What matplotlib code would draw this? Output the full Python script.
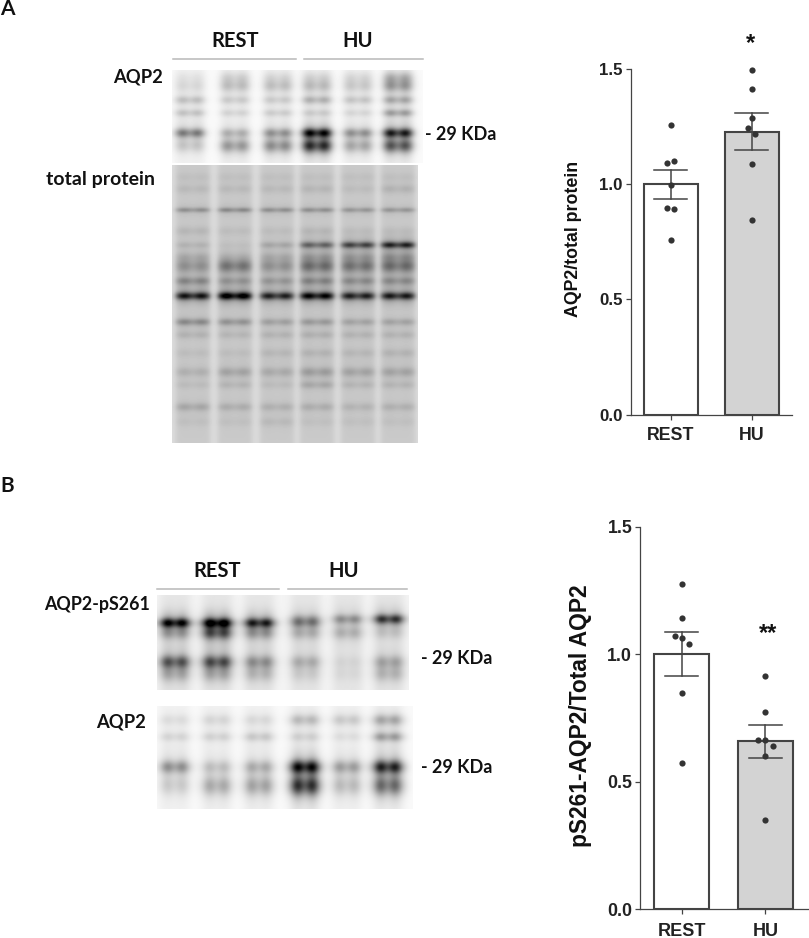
import numpy as np
import matplotlib
matplotlib.use("Agg")
import matplotlib.pyplot as plt

W, H = 809, 938
LABEL_FONT = "Lato"
AXIS_FONT = "Liberation Sans"

# ---- chart data ----
groups = ["REST", "HU"]
a_means = [1.0, 1.225]
a_err_low = [0.936, 1.146]
a_err_high = [1.062, 1.308]
a_rest_points = [1.256, 1.101, 1.091, 0.997, 0.896, 0.893, 0.759]
a_rest_jitter = [0, 0.041, -0.041, 0, -0.041, 0.041, 0]
a_hu_points = [1.493, 1.413, 1.285, 1.243, 1.217, 1.087, 0.844]
a_hu_jitter = [0, 0, 0, -0.041, 0.041, 0, 0]

b_means = [1.002, 0.658]
b_err_low = [0.915, 0.591]
b_err_high = [1.088, 0.722]
b_rest_points = [1.276, 1.140, 1.072, 1.062, 1.040, 0.846, 0.574]
b_rest_jitter = [0, 0, -0.085, 0, 0.085, 0, 0]
b_hu_points = [0.913, 0.774, 0.662, 0.662, 0.639, 0.600, 0.348]
b_hu_jitter = [0, 0, -0.085, 0, 0.085, 0, 0]
y_ticks = [0.0, 0.5, 1.0, 1.5]

# ---- blot band densities: (row, thickness, six lane densities) ----
aqp2_a_bands = [
    (78, 4.0, [.04, .09, .07, .08, .07, .18]),
    (86, 4.0, [.07, .14, .14, .15, .11, .24]),
    (100, 2.8, [.15, .11, .11, .19, .13, .21]),
    (113, 2.6, [.14, .09, .11, .11, .08, .25]),
    (133, 3.2, [.36, .18, .27, .68, .28, .62]),
    (146, 4.5, [.12, .27, .30, .58, .22, .45]),
]
total_bands = [
    (177, 3.0, [.03, .03, .03, .03, .03, .03]),
    (189, 3.0, [.05, .05, .05, .06, .04, .07]),
    (210, 1.7, [.18, .20, .18, .18, .16, .16]),
    (231, 3.0, [.06, .04, .04, .06, .04, .04]),
    (245, 2.2, [.06, .02, .10, .30, .40, .50]),
    (257, 3.0, [.07, .04, .07, .10, .10, .12]),
    (266, 4.5, [.17, .26, .17, .28, .26, .28]),
    (281, 2.8, [.19, .14, .14, .19, .17, .17]),
    (296, 2.6, [.56, .68, .52, .62, .52, .54]),
    (322, 2.4, [.20, .17, .13, .15, .12, .12]),
    (335, 2.6, [.07, .06, .07, .08, .07, .07]),
    (353, 3.0, [.04, .04, .06, .07, .06, .07]),
    (372, 3.2, [.08, .12, .10, .14, .12, .12]),
    (385, 2.6, [.04, .06, .04, .10, .06, .06]),
    (407, 2.8, [.11, .09, .08, .09, .07, .08]),
    (422, 3.0, [.03, .03, .05, .03, .03, .03]),
]
ps261_bands = [
    (623, 3.2, [.70, .74, .60, .25, .03, .05]),
    (619, 3.2, [.03, .03, .03, .16, .25, .54]),
    (633, 4.5, [.20, .44, .22, .16, .16, .09]),
    (662, 4.5, [.45, .48, .27, .18, .05, .20]),
    (674, 5.0, [.16, .16, .13, .07, .04, .14]),
]
aqp2_b_bands = [
    (720, 3.8, [.07, .09, .08, .18, .13, .24]),
    (737, 3.2, [.09, .10, .13, .10, .06, .26]),
    (767, 4.5, [.30, .14, .20, .68, .25, .62]),
    (786, 6.5, [.11, .22, .24, .58, .16, .40]),
]
lanes_a = [190, 235, 278, 317, 358, 398]
lanes_total = [193, 235, 277, 317, 358, 398]
lanes_b = [175, 217, 259, 305, 347, 388]


def px_axes(x0, y0, x1, y1, **kw):
    return fig.add_axes([x0 / W, 1 - y1 / H, (x1 - x0) / W, (y1 - y0) / H], **kw)


def T(x, y, s, ha="center", size=14, family=LABEL_FONT, weight="bold", **kw):
    fig.text(x / W, 1 - y / H, s, ha=ha, va="center", fontsize=size,
             family=family, fontweight=weight, color="#111111", **kw)


def blot(box, centers, half, bands, back, lane_back, edge=4.0):
    x0, y0, x1, y1 = box
    xs = np.arange(x0, x1) + 0.5
    ys = np.arange(y0, y1) + 0.5
    img = np.full((ys.size, xs.size), float(back))
    for i, c in enumerate(centers):
        mask = 0.5 * (np.tanh((xs - c + half) / edge) - np.tanh((xs - c - half) / edge))
        lobes = 0.88 + 0.12 * np.cos(2 * np.pi * (xs - c - half / 2) / half)
        img += lane_back * mask[None, :]
        for y, s, d in bands:
            core = np.exp(-0.5 * ((ys - y) / s) ** 2)
            halo = np.exp(-0.5 * ((ys - y) / (s * 2.6)) ** 2)
            img += (d[i] * (core + 0.3 * halo))[:, None] * (mask * lobes)[None, :]
    ax = px_axes(x0, y0, x1, y1)
    ax.imshow(1 - np.clip(img, 0, 1), cmap="gray", vmin=0, vmax=1, aspect="auto",
              interpolation="bilinear")
    ax.axis("off")


def chart(box, means, low, high, rest, rest_j, hu, hu_j, xlim, width, tick_size, name_size, x_pad):
    ax = px_axes(*box)
    x = np.arange(len(groups))
    ax.bar(x, means, width=width, color=["white", "#d3d3d3"], edgecolor="#444444", linewidth=1.5, zorder=1)
    for xi, lo, hi in zip(x, low, high):
        ax.plot([xi, xi], [lo, hi], color="#444444", lw=1.1, zorder=2)
        for v in (lo, hi):
            ax.plot([xi - 0.2, xi + 0.2], [v, v], color="#444444", lw=1.1, zorder=2)
    ax.scatter(np.array(rest_j), rest, s=20, color="#333333", linewidths=0, zorder=3, clip_on=False)
    ax.scatter(1 + np.array(hu_j), hu, s=20, color="#333333", linewidths=0, zorder=3, clip_on=False)
    ax.set_xlim(*xlim)
    ax.set_ylim(0, 1.5)
    ax.set_xticks(x, groups, fontsize=name_size, family=AXIS_FONT, fontweight="bold", color="#222222")
    ax.set_yticks(y_ticks, [f"{t:.1f}" for t in y_ticks], fontsize=tick_size,
                  family=AXIS_FONT, fontweight="bold", color="#222222")
    ax.tick_params(axis="y", length=3.8, width=0.9, color="#444444", pad=1.8)
    ax.tick_params(axis="x", length=3.8, width=0.9, color="#444444", pad=x_pad)
    for s in ("top", "right"):
        ax.spines[s].set_visible(False)
    for s in ("left", "bottom"):
        ax.spines[s].set_linewidth(0.9)
        ax.spines[s].set_color("#444444")
    return ax


fig = plt.figure(figsize=(W / 100, H / 100), dpi=100)

# panel A blots
blot((172, 70, 423, 163), lanes_a, 15, aqp2_a_bands, 0.02, 0.03)
blot((172, 165, 418, 443), lanes_total, 17, total_bands, 0.14, 0.07, edge=3.0)
# panel B blots
blot((157, 595, 408, 690), lanes_b, 15, ps261_bands, 0.04, 0.06, edge=5.0)
blot((157, 706, 413, 809), lanes_b, 15, aqp2_b_bands, 0.02, 0.03, edge=5.0)

# group lines
for x0, x1, y in [(173, 296, 59), (304, 423, 59), (157, 279, 588.5), (288, 407, 588.5)]:
    fig.add_artist(plt.Line2D([x0 / W, x1 / W], [1 - y / H] * 2, color="#b8b8b8", lw=1.1))

# panel text
T(7, 9, "A", size=15)
T(7, 486, "B", size=15)
T(235, 41, "REST", size=14.5)
T(358, 41, "HU", size=14.5)
T(163, 77, "AQP2", ha="right", size=13.2)
T(155, 180, "total protein", ha="right")
T(425, 135, "- 29 KDa", ha="left", size=13)
T(217, 571, "REST", size=14.5)
T(344, 571, "HU", size=14.5)
T(150, 604, "AQP2-pS261", ha="right", size=12.9)
T(146, 722, "AQP2", ha="right", size=13.2)
T(421, 659, "- 29 KDa", ha="left", size=13)
T(421, 767, "- 29 KDa", ha="left", size=13)

# charts
chart((630.5, 68.7, 792, 414.7), a_means, a_err_low, a_err_high,
      a_rest_points, a_rest_jitter, a_hu_points, a_hu_jitter,
      (-0.496, 1.4975), 0.667, 12.2, 12.8, 5)
chart((640, 526.7, 809, 909), b_means, b_err_low, b_err_high,
      b_rest_points, b_rest_jitter, b_hu_points, b_hu_jitter,
      (-0.498, 1.52), 0.663, 12.8, 13, 6)

T(573, 239, "AQP2/total protein", size=12.8, family=AXIS_FONT, rotation=90)
T(580, 716, "pS261-AQP2/Total AQP2", size=16.4, family=AXIS_FONT, rotation=90)
T(751, 44, "*", size=17, family=AXIS_FONT)
T(768, 634, "**", size=17, family=AXIS_FONT)

fig.savefig("out.png", dpi=100)
